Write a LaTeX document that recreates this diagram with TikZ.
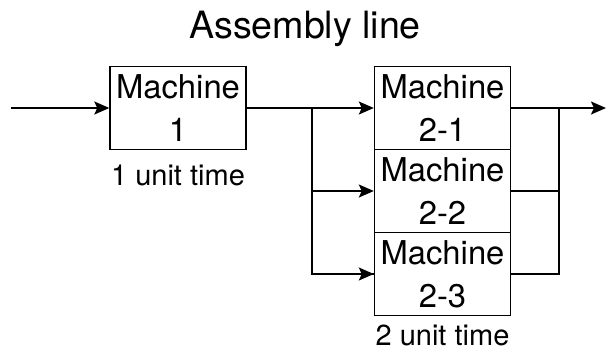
\documentclass[tikz,border=0pt]{standalone}
\usepackage{fontspec}
\setmainfont{TeX Gyre Heros}
\usetikzlibrary{arrows.meta}

\tikzset{
  machine/.style={draw, line width=0.7pt, minimum width=68pt, minimum height=41.5pt,
                  inner sep=0pt, align=center, font=\fontsize{16.4}{21.5}\selectfont},
  caption/.style={font=\fontsize{14.5}{17}\selectfont, inner sep=0pt},
  flow/.style={line width=0.9pt, -{Stealth[length=7.5pt, width=6.5pt, inset=1.5pt]}},
  wire/.style={line width=0.9pt}
}

\begin{document}
\begin{tikzpicture}[x=0.5pt, y=-0.5pt]  % 以像素为单位, y 轴向下
  \useasboundingbox (0,0) rectangle (607,350);

  % 定义各列位置
  \pgfmathsetmacro{\xa}{178}   % 机器 1 的中心
  \pgfmathsetmacro{\xb}{442.5} % 机器 2-x 的中心
  \pgfmathsetmacro{\dy}{83}    % 机器 2-x 的间距

  % 标题
  \node[font=\fontsize{18.8}{22}\selectfont] (title) at (305,28.5) {Assembly line};

  % 机器 1
  \node[machine] (m1) at (\xa,108) {Machine\\1};
  \node[caption, below=7pt] (t1) at (m1.south) {1 unit time};

  % 并行的机器 2-1, 2-2, 2-3
  \node[machine] (m21) at (\xb,108) {Machine\\2-1};
  \node[machine] (m22) at (\xb,108+\dy) {Machine\\2-2};
  \node[machine] (m23) at (\xb,108+2*\dy) {Machine\\2-3};
  \node[caption, below=4pt] (t2) at (m23.south) {2 unit time};

  % 分支点与汇合点
  \coordinate (src) at (11,108);
  \coordinate (split) at (312,108);
  \coordinate (join) at (559,108);
  \coordinate (sink) at (606,108);

  % 输入
  \draw[flow] (src) -- (m1.west);

  % 分配到三台机器
  \draw[wire] (m1.east) -- (split) |- (m23.west);
  \draw[flow] (split) -- (m21.west);
  \draw[flow] (split |- m22.west) -- (m22.west);
  \draw[flow] (split |- m23.west) -- (m23.west);

  % 汇合后输出
  \draw[wire] (m21.east) -- (join);
  \draw[wire] (m22.east) -- (join |- m22.east);
  \draw[wire] (m23.east) -| (join);
  \draw[flow] (join) -- (sink);
\end{tikzpicture}
\end{document}
